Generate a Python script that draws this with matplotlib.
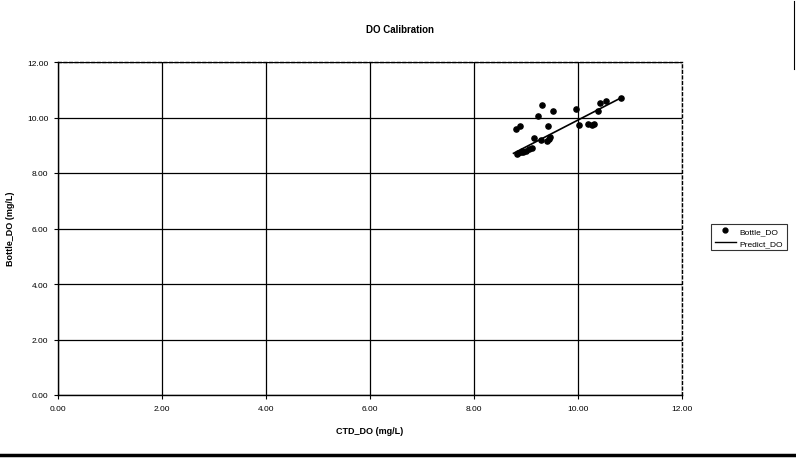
import matplotlib
matplotlib.use("Agg")
import matplotlib.pyplot as plt
from matplotlib.lines import Line2D

plt.rcParams['font.family'] = ['Liberation Sans', 'DejaVu Sans']

# Bottle vs CTD dissolved oxygen (mg/L)
ctd_do = [8.81, 8.83, 8.85, 8.88, 8.90, 8.93, 8.95, 9.00, 9.06, 9.12, 9.15, 9.23,
          9.28, 9.30, 9.41, 9.43, 9.45, 9.47, 9.52, 9.97, 10.02, 10.20, 10.26,
          10.30, 10.38, 10.42, 10.54, 10.82]
bottle_do = [9.58, 8.70, 8.72, 9.70, 8.77, 8.80, 8.74, 8.78, 8.86, 8.90, 9.26, 10.07,
             9.20, 10.44, 9.17, 9.68, 9.22, 9.28, 10.25, 10.30, 9.74, 9.76, 9.74,
             9.76, 10.23, 10.52, 10.58, 10.71]
# Regression (predicted) line end points
pred_ctd = [8.76, 10.85]
pred_do = [8.71, 10.73]

ticks = [0, 2, 4, 6, 8, 10, 12]
tick_labels = ["0.00", "2.00", "4.00", "6.00", "8.00", "10.00", "12.00"]

fig = plt.figure(figsize=(7.96, 4.60), dpi=100)
ax = fig.add_axes([58/796, 1-396/460, (682-58)/796, (396-63)/460])

ax.scatter(ctd_do, bottle_do, s=14, color='black', zorder=3, label='Bottle_DO')
ax.plot(pred_ctd, pred_do, color='black', lw=1.2, zorder=3, label='Predict_DO')

ax.set_xlim(0, 12)
ax.set_ylim(0, 12)
ax.set_xticks(ticks)
ax.set_yticks(ticks)
ax.set_xticklabels(tick_labels, fontsize=6)
ax.set_yticklabels(tick_labels, fontsize=6)
ax.tick_params(length=3, width=0.8, colors='black', pad=4)
ax.grid(True, color='black', lw=0.9)
ax.set_axisbelow(True)

for s in ['top', 'right']:
    ax.spines[s].set_linestyle((0, (2, 2)))
    ax.spines[s].set_linewidth(1.0)
for s in ['left', 'bottom']:
    ax.spines[s].set_linewidth(1.0)

ax.set_xlabel('CTD_DO (mg/L)', fontsize=6.5, fontweight='bold', labelpad=10)
fig.text(11/796, 1-229/460, 'Bottle_DO (mg/L)', rotation=90, ha='center',
         va='center', fontsize=6.5, fontweight='bold')
fig.text(400/796, 1-30/460, 'DO Calibration', ha='center', va='center',
         fontsize=7, fontweight='bold')

handles = [Line2D([], [], marker='o', color='black', ls='none', markersize=3.5),
           Line2D([], [], color='black', lw=1.0)]
leg = fig.legend(handles, ['Bottle_DO', 'Predict_DO'], loc='center',
                 bbox_to_anchor=(749/796, 1-238/460), fontsize=6, frameon=True,
                 fancybox=False, edgecolor='black', handlelength=2.5,
                 borderpad=0.4, labelspacing=0.5, handletextpad=0.5)
leg.get_frame().set_linewidth(0.8)

# scanned page border artifacts
fig.add_artist(Line2D([0, 1], [1-456/460, 1-456/460], color='black', lw=2.5,
                      transform=fig.transFigure))
fig.add_artist(Line2D([794/796, 794/796], [1-2/460, 1-70/460], color='black',
                      lw=0.8, transform=fig.transFigure))

fig.savefig('out.png', dpi=100)
